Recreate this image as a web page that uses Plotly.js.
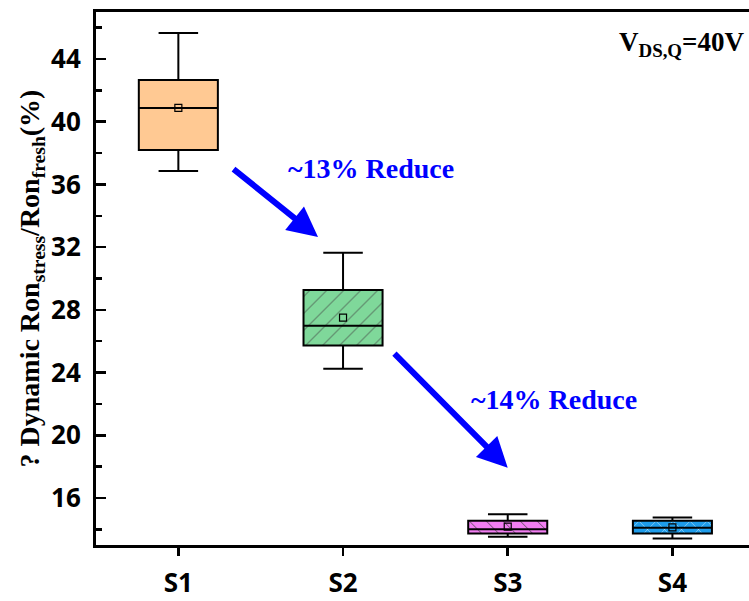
<!DOCTYPE html>
<html>
<head>
<meta charset="utf-8">
<script src="https://cdn.plot.ly/plotly-3.0.1.min.js"></script>
<style>html,body{margin:0;padding:0;background:#fff;}#chart{width:749px;height:601px;}</style>
</head>
<body>
<div id="chart"></div>
<script>
const categories = ['S1', 'S2', 'S3', 'S4'];
const lowerWhisker = [36.86, 24.25, 13.53, 13.41];
const q1Values = [38.20, 25.72, 13.73, 13.73];
const medianValues = [40.88, 26.99, 14.01, 14.10];
const q3Values = [42.66, 29.27, 14.54, 14.54];
const upperWhisker = [45.66, 31.65, 14.96, 14.75];
const meanValues = [40.88, 27.50, 14.17, 14.13];
const fillColors = ['#FFC993', '#7FD89A', '#F27EF2', '#1E9CEA'];
const patternShapes = ['', '/', '\\', 'x'];
const yTickVals = [16, 20, 24, 28, 32, 36, 40, 44];

const traces = [];
// patterned box bodies (Q1 to Q3)
traces.push({
  type: 'bar',
  x: categories,
  base: q1Values,
  y: q3Values.map((v, i) => v - q1Values[i]),
  width: 0.48,
  marker: {
    color: fillColors,
    line: {width: 0},
    pattern: {shape: patternShapes, fillmode: 'overlay', fgcolor: '#000000', fgopacity: 1, size: 12, solidity: 0.07}
  },
  showlegend: false,
  hoverinfo: 'skip'
});
// box outlines, medians, whiskers
categories.forEach((c, i) => {
  traces.push({
    type: 'box',
    x: [c],
    q1: [q1Values[i]],
    median: [medianValues[i]],
    q3: [q3Values[i]],
    lowerfence: [lowerWhisker[i]],
    upperfence: [upperWhisker[i]],
    width: 0.48,
    whiskerwidth: 0.5,
    fillcolor: 'rgba(0,0,0,0)',
    line: {color: '#000000', width: 2},
    showlegend: false,
    hoverinfo: 'skip'
  });
});
// mean markers
traces.push({
  type: 'scatter',
  mode: 'markers',
  x: categories,
  y: meanValues,
  marker: {symbol: 'square-open', size: 7, color: '#000000', line: {width: 1.2}},
  showlegend: false,
  hoverinfo: 'skip'
});

const serif = 'Liberation Serif, Times New Roman, serif';
const sans = 'Open Sans, DejaVu Sans, sans-serif';
const layout = {
  width: 749,
  height: 601,
  margin: {l: 96, r: 0, t: 12, b: 56},
  paper_bgcolor: '#ffffff',
  plot_bgcolor: '#ffffff',
  showlegend: false,
  xaxis: {
    type: 'category',
    range: [-0.5, 3.465],
    showline: true,
    linecolor: '#000000',
    linewidth: 3,
    mirror: true,
    ticks: 'outside',
    ticklen: 8,
    tickwidth: 2.5,
    tickcolor: '#000000',
    showgrid: false,
    zeroline: false,
    ticklabelstandoff: 5,
    tickfont: {family: sans, size: 26, color: '#000000', weight: 'bold'}
  },
  yaxis: {
    range: [13, 47],
    tickvals: yTickVals,
    showline: true,
    linecolor: '#000000',
    linewidth: 3,
    ticks: 'inside',
    ticklen: 10,
    tickwidth: 2.5,
    tickcolor: '#000000',
    minor: {dtick: 2, tick0: 0, ticks: 'inside', ticklen: 6, tickwidth: 2.5, tickcolor: '#000000', showgrid: false},
    showgrid: false,
    zeroline: false,
    ticklabelstandoff: 7,
    tickfont: {family: sans, size: 26, color: '#000000', weight: 'bold'},
    title: {
      text: '? Dynamic Ron<sub>stress</sub>/Ron<sub>fresh</sub>(%)',
      font: {family: serif, size: 28, color: '#000000', weight: 'bold'},
      standoff: 4
    }
  },
  annotations: [
    {x: 0.848, y: 32.65, ax: 0.326, ay: 37.05, xref: 'x', yref: 'y', axref: 'x', ayref: 'y',
     showarrow: true, arrowhead: 2, arrowsize: 1.0, arrowwidth: 6, arrowcolor: '#0000FF', text: ''},
    {x: 2.0, y: 17.92, ax: 1.303, ay: 25.31, xref: 'x', yref: 'y', axref: 'x', ayref: 'y',
     showarrow: true, arrowhead: 2, arrowsize: 1.0, arrowwidth: 6, arrowcolor: '#0000FF', text: ''},
    {x: 1.17, y: 37.0, xref: 'x', yref: 'y', showarrow: false, text: '~13% Reduce',
     font: {family: serif, size: 28, color: '#0000FF', weight: 'bold'}},
    {x: 2.28, y: 22.3, xref: 'x', yref: 'y', showarrow: false, text: '~14% Reduce',
     font: {family: serif, size: 28, color: '#0000FF', weight: 'bold'}},
    {x: 0.995, y: 0.975, xref: 'paper', yref: 'paper', xanchor: 'right', yanchor: 'top', showarrow: false,
     text: 'V<sub>DS,Q</sub>=40V', font: {family: serif, size: 27, color: '#000000', weight: 'bold'}}
  ]
};

Plotly.newPlot('chart', traces, layout, {displayModeBar: false, staticPlot: true});
</script>
</body>
</html>
